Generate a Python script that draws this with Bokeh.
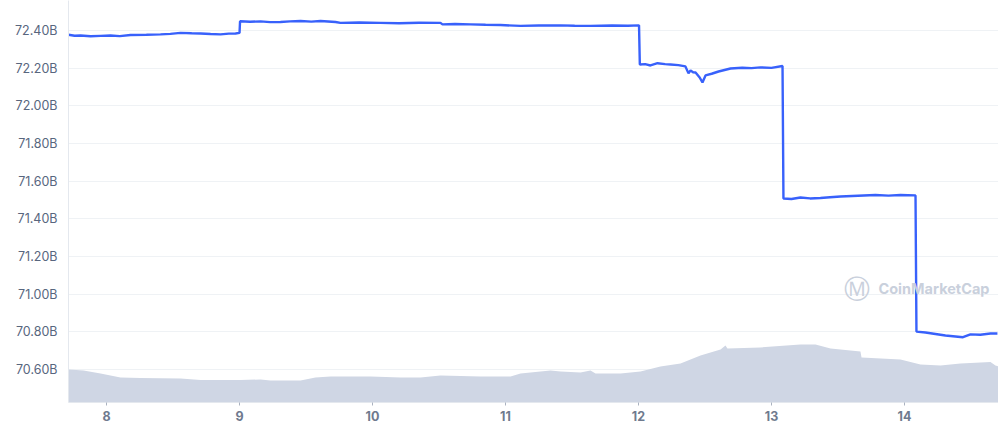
from bokeh.plotting import figure
from bokeh.models import (Range1d, FixedTicker, PrintfTickFormatter,
                          Label, ColumnDataSource)
from bokeh.embed import file_html
from bokeh.resources import INLINE

# ---- data (day of month, market cap in billions USD) ----
cap_day = [7.714, 7.760, 7.805, 7.880, 7.955, 8.030, 8.100, 8.180, 8.300, 8.406,
           8.480, 8.556, 8.640, 8.707, 8.782, 8.857, 8.920, 8.970, 9.000, 9.004,
           9.080, 9.158, 9.230, 9.308, 9.380, 9.459, 9.540, 9.609, 9.722, 9.759,
           9.900, 10.060, 10.200, 10.350, 10.511, 10.526, 10.620, 10.737, 10.850,
           10.962, 11.113, 11.250, 11.414, 11.520, 11.639, 11.800, 11.920, 12.004,
           12.010, 12.050, 12.090, 12.143, 12.200, 12.241, 12.300, 12.353, 12.376,
           12.391, 12.410, 12.429, 12.460, 12.481, 12.504, 12.550, 12.602, 12.692,
           12.780, 12.850, 12.917, 13.000, 13.083, 13.090, 13.150, 13.218, 13.290,
           13.368, 13.440, 13.519, 13.650, 13.782, 13.880, 13.970, 14.083, 14.090,
           14.158, 14.233, 14.308, 14.383, 14.440, 14.496, 14.570, 14.647, 14.699]
cap_value = [72.377, 72.372, 72.373, 72.369, 72.371, 72.373, 72.370, 72.376, 72.377,
             72.379, 72.382, 72.387, 72.385, 72.384, 72.381, 72.379, 72.383, 72.384,
             72.387, 72.449, 72.446, 72.448, 72.444, 72.445, 72.448, 72.450, 72.447,
             72.450, 72.445, 72.440, 72.442, 72.440, 72.438, 72.441, 72.440, 72.432,
             72.434, 72.432, 72.430, 72.429, 72.424, 72.426, 72.427, 72.425, 72.424,
             72.426, 72.425, 72.427, 72.219, 72.221, 72.214, 72.226, 72.221, 72.219,
             72.216, 72.209, 72.172, 72.188, 72.178, 72.177, 72.150, 72.124, 72.161,
             72.170, 72.182, 72.198, 72.202, 72.200, 72.204, 72.201, 72.211, 71.508,
             71.505, 71.513, 71.508, 71.510, 71.514, 71.518, 71.522, 71.526, 71.523,
             71.526, 71.524, 70.801, 70.796, 70.788, 70.780, 70.775, 70.771, 70.786,
             70.784, 70.791, 70.791]

vol_day = [7.714, 7.827, 7.955, 8.105, 8.256, 8.556, 8.707, 9.008, 9.158, 9.233,
           9.459, 9.571, 9.684, 9.985, 10.211, 10.361, 10.511, 10.812, 11.038, 11.113,
           11.263, 11.338, 11.414, 11.564, 11.639, 11.677, 11.865, 12.015, 12.165,
           12.316, 12.466, 12.617, 12.654, 12.669, 12.917, 13.218, 13.331, 13.444,
           13.669, 13.677, 13.970, 14.120, 14.271, 14.421, 14.647, 14.684, 14.707]
vol_value = [50.3, 48.7, 44.2, 38.1, 37.3, 36.5, 34.3, 34.3, 35.0, 33.5,
             33.5, 38.1, 39.6, 39.6, 38.1, 38.1, 41.1, 39.6, 39.6, 44.2,
             47.2, 48.7, 47.2, 45.7, 48.7, 44.2, 44.2, 47.2, 54.8,
             59.4, 71.6, 80.7, 86.8, 82.2, 83.8, 88.3, 88.3, 82.2,
             77.7, 68.5, 65.5, 57.9, 56.3, 59.4, 61.7, 56.3, 54.8]

y_ticks = [70.6, 70.8, 71.0, 71.2, 71.4, 71.6, 71.8, 72.0, 72.2, 72.4]
x_ticks = [8, 9, 10, 11, 12, 13, 14]

LABEL_COLOR = "#58667e"
GRID_COLOR = "#eff2f5"
FONT = "Inter"

p = figure(width=998, height=428, output_backend="svg", toolbar_location=None,
           x_range=Range1d(7.714, 14.707), y_range=Range1d(70.4244, 72.559),
           min_border_left=68, min_border_right=0, min_border_top=0,
           min_border_bottom=26, outline_line_color=None,
           background_fill_color="white", border_fill_color="white")

p.extra_y_ranges = {"vol": Range1d(0, 612)}

vol_src = ColumnDataSource(dict(x=vol_day, y=vol_value))
p.varea(x="x", y1=0, y2="y", source=vol_src, y_range_name="vol",
        fill_color="#cfd6e4", fill_alpha=1.0)

cap_src = ColumnDataSource(dict(x=cap_day, y=cap_value))
p.line(x="x", y="y", source=cap_src, line_color="#3861fb", line_width=2.4)

# axes
p.yaxis.ticker = FixedTicker(ticks=y_ticks)
p.yaxis.formatter = PrintfTickFormatter(format="%.2fB")
p.yaxis.major_tick_line_color = None
p.yaxis.minor_tick_line_color = None
p.yaxis.axis_line_color = "#e4e8ee"
p.yaxis.major_label_text_color = LABEL_COLOR
p.yaxis.major_label_text_font = FONT
p.yaxis.major_label_text_font_size = "12.5px"
p.yaxis.major_label_standoff = 5

p.xaxis.ticker = FixedTicker(ticks=x_ticks)
p.xaxis.axis_line_color = "#e4e8ee"
p.xaxis.major_tick_line_color = "#aab2c0"
p.xaxis.major_tick_in = 0
p.xaxis.major_tick_out = 3
p.xaxis.minor_tick_line_color = None
p.xaxis.major_label_text_color = "#6f7a8e"
p.xaxis.major_label_text_font = FONT
p.xaxis.major_label_text_font_style = "bold"
p.xaxis.major_label_text_font_size = "12.5px"
p.xaxis.major_label_standoff = 5

p.xgrid.grid_line_color = None
p.ygrid.grid_line_color = GRID_COLOR
p.ygrid.grid_line_width = 1

# watermark
p.add_layout(Label(x=810, y=114, x_units="screen", y_units="screen",
                   text="CoinMarketCap", text_color="#c9d0dc", text_font=FONT,
                   text_font_size="14.5px", text_font_style="bold",
                   text_baseline="middle", text_align="left"))
p.add_layout(Label(x=788, y=114, x_units="screen", y_units="screen",
                   text="Ⓜ", text_color="#c9d0dc", text_font="DejaVu Sans",
                   text_font_size="26px", text_baseline="middle", text_align="center"))

open("out.html", "w").write(file_html(p, INLINE))
